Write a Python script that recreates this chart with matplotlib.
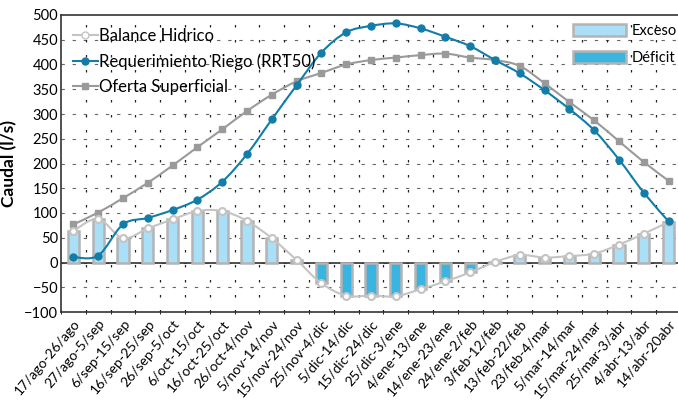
import numpy as np
import matplotlib.pyplot as plt
from matplotlib.patches import Patch, PathPatch
from matplotlib.path import Path
from matplotlib.lines import Line2D

plt.rcParams['font.family'] = ['Lato', 'DejaVu Sans']

# periodos de 10 dias
periodos = ['17/ago-26/ago', '27/ago-5/sep', '6/sep-15/sep', '16/sep-25/sep',
            '26/sep-5/oct', '6/oct-15/oct', '16/oct-25/oct', '26/oct-4/nov',
            '5/nov-14/nov', '15/nov-24/nov', '25/nov-4/dic', '5/dic-14/dic',
            '15/dic-24/dic', '25/dic-3/ene', '4/ene-13/ene', '14/ene-23/ene',
            '24/ene-2/feb', '3/feb-12/feb', '13/feb-22/feb', '23/feb-4/mar',
            '5/mar-14/mar', '15/mar-24/mar', '25/mar-3/abr', '4/abr-13/abr',
            '14/abr-20abr']

# caudales en l/s
balance = [64, 88, 49, 69, 87, 104, 104, 84, 49, 5, -42, -67, -67, -68, -54,
           -38, -20, 1, 15, 10, 13, 18, 36, 58, 82]
requerimiento = [11, 14, 77, 90, 106, 127, 163, 219, 289, 358, 424, 465, 478,
                 483, 473, 456, 437, 409, 382, 348, 310, 267, 208, 141, 83]
oferta = [77, 101, 130, 161, 196, 233, 269, 306, 339, 366, 383, 400, 409, 414,
          419, 422, 414, 409, 397, 362, 324, 287, 245, 203, 165]

c_exceso = '#a9dff7'
c_deficit = '#3ab4e0'
c_borde = '#b4b4b4'
c_req = '#117da8'
c_ofe = '#9a9a9a'
c_bal = '#c4c4c4'


# linea suavizada tipo excel (curvas bezier entre los puntos)
def linea_suave(ax, xs, ys, color, lw, z):
    p = np.column_stack([xs, ys]).astype(float)
    n = len(p)
    verts = [p[0]]
    codes = [Path.MOVETO]
    for i in range(n - 1):
        p0 = p[max(i - 1, 0)]
        p3 = p[min(i + 2, n - 1)]
        c1 = p[i] + (p[i + 1] - p0) / 6
        c2 = p[i + 1] - (p3 - p[i]) / 6
        verts += [c1, c2, p[i + 1]]
        codes += [Path.CURVE4] * 3
    ax.add_patch(PathPatch(Path(verts, codes), fill=False, edgecolor=color,
                           lw=lw, zorder=z, capstyle='round'))


fig = plt.figure(figsize=(6.78, 4.05), dpi=100)
ax = fig.add_axes([61/678, (405-312)/405, 620/678, (312-15)/405])

x = np.arange(len(periodos))
bal = np.array(balance)
colores = [c_exceso if v >= 0 else c_deficit for v in bal]
ax.bar(x, bal, width=0.45, color=colores, edgecolor=c_borde, linewidth=1.8, zorder=3)

linea_suave(ax, x, oferta, c_ofe, 1.5, 4)
ax.plot(x, oferta, ls='none', color=c_ofe, marker='s', ms=4.5, zorder=4)
linea_suave(ax, x, requerimiento, c_req, 1.5, 5)
ax.plot(x, requerimiento, ls='none', color=c_req, marker='o', ms=5, zorder=5)
linea_suave(ax, x, balance, c_bal, 1.5, 4)
ax.plot(x, balance, ls='none', marker='o', ms=5, mfc='white',
        mec=c_bal, mew=1.5, zorder=4)

ax.axhline(0, color='#333333', lw=1.2, zorder=2)

ax.set_xlim(-0.5, len(periodos) - 0.5)
ax.set_ylim(-100, 500)
ax.set_yticks(np.arange(-100, 501, 50))
ax.set_xticks(x)
ax.set_xticklabels(periodos, rotation=50, ha='right', rotation_mode='anchor', fontsize=10)
ax.set_xticks(np.arange(-0.5, len(periodos), 1), minor=True)
ax.tick_params(axis='x', which='major', length=0, pad=4)
ax.tick_params(axis='x', which='minor', length=3, direction='inout')
ax.tick_params(axis='y', labelsize=10.5, length=0, pad=2)

# rejilla
for yv in np.arange(-50, 500, 50):
    ax.axhline(yv, color='#666666', lw=0.8, ls=(0, (3, 7)), zorder=1)
for xv in np.arange(0.5, len(periodos), 1):
    ax.axvline(xv, color='#222222', lw=0.9, ls=(0, (2, 10)), zorder=1)

for s in ['top', 'bottom', 'left']:
    ax.spines[s].set_color('#333333')
    ax.spines[s].set_linewidth(1.2)
ax.spines['right'].set_visible(False)

ax.set_ylabel('Caudal (l/s)', fontsize=12.5, fontweight='bold', labelpad=5)

lineas = [Line2D([], [], color=c_bal, lw=1.5, marker='o', ms=5, mfc='white', mec=c_bal),
          Line2D([], [], color=c_req, lw=1.5, marker='o', ms=5),
          Line2D([], [], color=c_ofe, lw=1.5, marker='s', ms=4.5)]
leg1 = ax.legend(lineas, ['Balance Hidrico', 'Requerimiento Riego (RRT50)', 'Oferta Superficial'],
                 loc='upper left', bbox_to_anchor=(0.0, 0.996), frameon=False, fontsize=12,
                 handlelength=1.5, handletextpad=0.1, labelspacing=0.55, borderaxespad=0.3)
ax.add_artist(leg1)

parches = [Patch(facecolor=c_exceso, edgecolor=c_borde, linewidth=1.8),
           Patch(facecolor=c_deficit, edgecolor=c_borde, linewidth=1.8)]
ax.legend(parches, ['Exceso', 'Déficit'], loc='upper left', bbox_to_anchor=(0.805, 1.015),
          frameon=False, fontsize=10.5, handlelength=3.6, handleheight=0.9,
          handletextpad=0.4, labelspacing=0.9)

fig.savefig('out.png', dpi=100)
